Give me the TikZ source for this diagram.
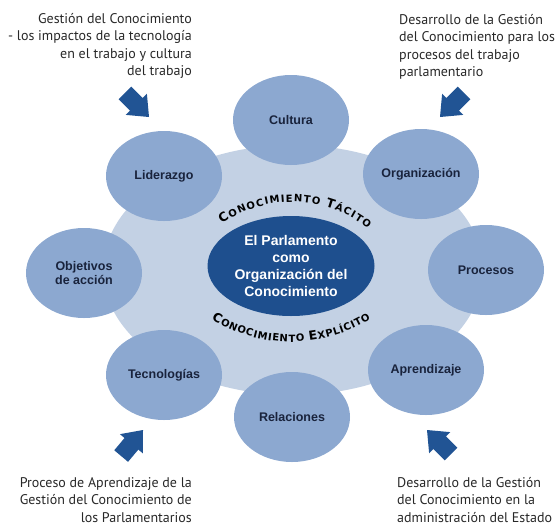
\documentclass[tikz,border=0pt]{standalone}
\usepackage{fontspec}
\setmainfont{Liberation Sans}
\newfontfamily\notefont{PT Sans}
\newfontfamily\arcfont{DejaVu Sans}
\usetikzlibrary{shapes.geometric,decorations.text}
\definecolor{bgell}{RGB}{195,209,228}
\definecolor{midblue}{RGB}{140,168,208}
\definecolor{darkblue}{RGB}{30,79,142}
\definecolor{arrowblue}{RGB}{33,84,148}
\definecolor{navytext}{RGB}{25,35,60}
\definecolor{notegray}{RGB}{40,40,40}
\begin{document}
\begin{tikzpicture}[x=1pt,y=-1pt,
  topic/.style={ellipse, fill=midblue, minimum width=116pt, minimum height=90pt,
    inner sep=0pt, font=\fontsize{12.5}{14.5}\selectfont\bfseries, text=navytext, align=center},
  note/.style={font=\notefont\fontsize{14}{17.5}\selectfont, text=notegray, inner sep=0pt},
  blockarrow/.pic={\fill[arrowblue] (0,0) -- (-18,-15) -- (-18,-9) -- (-34,-9)
    -- (-34,9) -- (-18,9) -- (-18,15) -- cycle;}
]
\useasboundingbox (0,0) rectangle (556,525);
% base ellipse
\node[ellipse, fill=bgell, minimum width=380pt, minimum height=250pt, inner sep=0pt] (base) at (293,270) {};
% topics
\node[topic] (cultura) at (291,120) {Cultura};
\node[topic] (liderazgo) at (164,176) {Liderazgo};
\node[topic] (organizacion) at (421,174) {Organización};
\node[topic] (objetivos) at (84,273) {Objetivos\\de acción};
\node[topic] (procesos) at (486,270) {Procesos};
\node[topic] (tecnologias) at (164,375) {Tecnologías};
\node[topic] (aprendizaje) at (426,370) {Aprendizaje};
\node[topic] (relaciones) at (292,417) {Relaciones};
% center
\node[ellipse, fill=darkblue, minimum width=167pt, minimum height=100pt, inner sep=0pt,
  text=white, font=\fontsize{14}{17}\selectfont\bfseries, align=center] (core) at (291,266)
  {El Parlamento\\como\\Organización del\\Conocimiento};
% curved texts
\begin{scope}
\arcfont\bfseries
\path[decorate, decoration={text along path, text align={fit to path},
  text={|\arcfont\bfseries\fontsize{12.5}{12.5}\selectfont|C|\arcfont\bfseries\fontsize{10}{10}\selectfont|ONOCIMIENTO |\arcfont\bfseries\fontsize{12.5}{12.5}\selectfont|T|\arcfont\bfseries\fontsize{10}{10}\selectfont|ÁCITO}}]
  (292,324) ++(-125:122) arc[start angle=-125, end angle=-51.5, radius=122];
\path[decorate, decoration={text along path, text align={fit to path},
  text={|\arcfont\bfseries\fontsize{12.5}{12.5}\selectfont|C|\arcfont\bfseries\fontsize{10}{10}\selectfont|ONOCIMIENTO |\arcfont\bfseries\fontsize{12.5}{12.5}\selectfont|E|\arcfont\bfseries\fontsize{10}{10}\selectfont|XPLÍCITO}}]
  (291,192) ++(122:150) arc[start angle=122, end angle=58, radius=150];
\end{scope}
% notes (anchored at the baseline of their last line)
\node[note, anchor=base east, align=right] (noteTL) at (192,75.5)
  {Gestión del Conocimiento\\- los impactos de la tecnología\\en el trabajo y cultura\\del trabajo};
\node[note, anchor=base west, align=left] (noteTR) at (399,76.5)
  {Desarrollo de la Gestión\\del Conocimiento para los\\procesos del trabajo\\parlamentario};
\node[note, anchor=base east, align=right] (noteBL) at (192,522)
  {Proceso de Aprendizaje de la\\Gestión del Conocimiento de\\los Parlamentarios};
\node[note, anchor=base west, align=left] (noteBR) at (397,522)
  {Desarrollo de la Gestión\\del Conocimiento en la\\administración del Estado};
% arrows
\pic[rotate=-45] at (149,117) {blockarrow};
\pic[rotate=-135] at (440,117) {blockarrow};
\pic[rotate=50] at (143,430) {blockarrow};
\pic[rotate=135] at (427,430) {blockarrow};
\end{tikzpicture}
\end{document}
